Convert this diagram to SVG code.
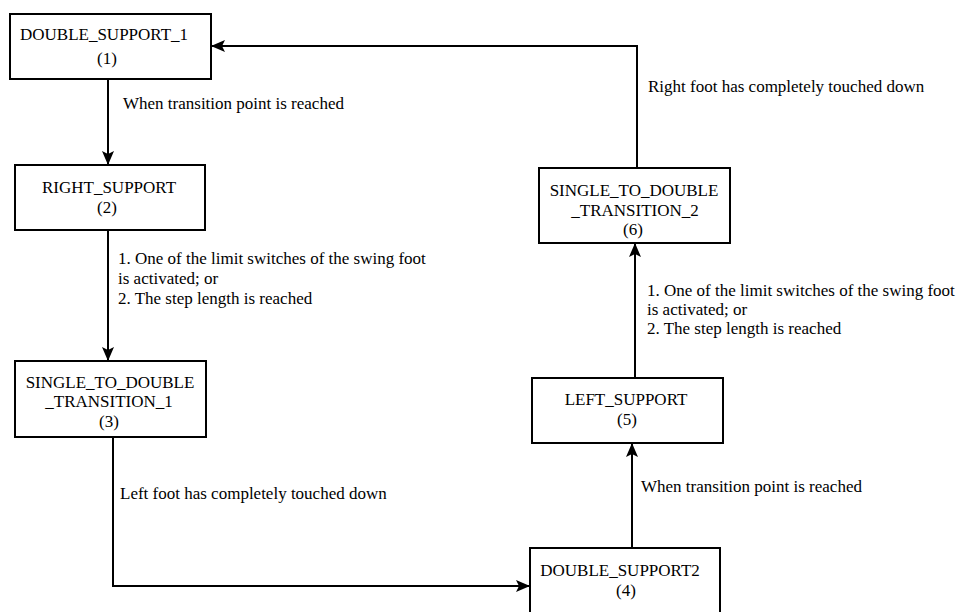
<svg xmlns="http://www.w3.org/2000/svg" width="958" height="612" viewBox="0 0 958 612">
<style>
.box{fill:#fff;stroke:#000;stroke-width:2}
.t{font-family:"Liberation Serif","Times New Roman",serif;font-size:17px;fill:#000}
.c{text-anchor:middle}
.edge{fill:none;stroke:#000;stroke-width:2}
</style>
<defs>
<marker id="ah" viewBox="0 0 14 12" refX="14" refY="6" markerWidth="14" markerHeight="12" markerUnits="userSpaceOnUse" orient="auto">
<path d="M0,0 L14,6 L0,12 L3,6 Z" fill="#000"/>
</marker>
</defs>
<rect width="958" height="612" fill="#fff"/>
<g id="connectors">
<path class="edge" d="M108,79 V165" marker-end="url(#ah)"/>
<path class="edge" d="M108,230 V361" marker-end="url(#ah)"/>
<path class="edge" d="M113,437 V586 H530" marker-end="url(#ah)"/>
<path class="edge" d="M632,548 V443" marker-end="url(#ah)"/>
<path class="edge" d="M635,378 V243" marker-end="url(#ah)"/>
<path class="edge" d="M637,168 V46 H211" marker-end="url(#ah)"/>
<text class="t" x="123" y="109">When transition point is reached</text>
<text class="t" x="118" y="264">1. One of the limit switches of the swing foot</text>
<text class="t" x="118" y="284">is activated; or</text>
<text class="t" x="118" y="304">2. The step length is reached</text>
<text class="t" x="120" y="499">Left foot has completely touched down</text>
<text class="t" x="641" y="492">When transition point is reached</text>
<text class="t" x="647" y="296">1. One of the limit switches of the swing foot</text>
<text class="t" x="647" y="315">is activated; or</text>
<text class="t" x="647" y="334">2. The step length is reached</text>
<text class="t" x="648" y="92">Right foot has completely touched down</text>
</g>
<g id="n1">
<rect class="box" x="10" y="14" width="201" height="65"/>
<text class="t c" x="104" y="40">DOUBLE_SUPPORT_1</text>
<text class="t c" x="107" y="64">(1)</text>
</g>
<g id="n2">
<rect class="box" x="15" y="165" width="190" height="65"/>
<text class="t c" x="109" y="193">RIGHT_SUPPORT</text>
<text class="t c" x="107" y="213">(2)</text>
</g>
<g id="n3">
<rect class="box" x="15" y="361" width="191" height="76"/>
<text class="t c" x="110" y="388">SINGLE_TO_DOUBLE</text>
<text class="t c" x="109" y="407">_TRANSITION_1</text>
<text class="t c" x="109" y="427">(3)</text>
</g>
<g id="n4">
<rect class="box" x="530" y="548" width="190" height="75"/>
<text class="t c" x="620" y="576">DOUBLE_SUPPORT2</text>
<text class="t c" x="626" y="596">(4)</text>
</g>
<g id="n5">
<rect class="box" x="532" y="378" width="191" height="65"/>
<text class="t c" x="626" y="405">LEFT_SUPPORT</text>
<text class="t c" x="627" y="425">(5)</text>
</g>
<g id="n6">
<rect class="box" x="539" y="168" width="191" height="75"/>
<text class="t c" x="634" y="196">SINGLE_TO_DOUBLE</text>
<text class="t c" x="635" y="216">_TRANSITION_2</text>
<text class="t c" x="633" y="235">(6)</text>
</g>
</svg>
